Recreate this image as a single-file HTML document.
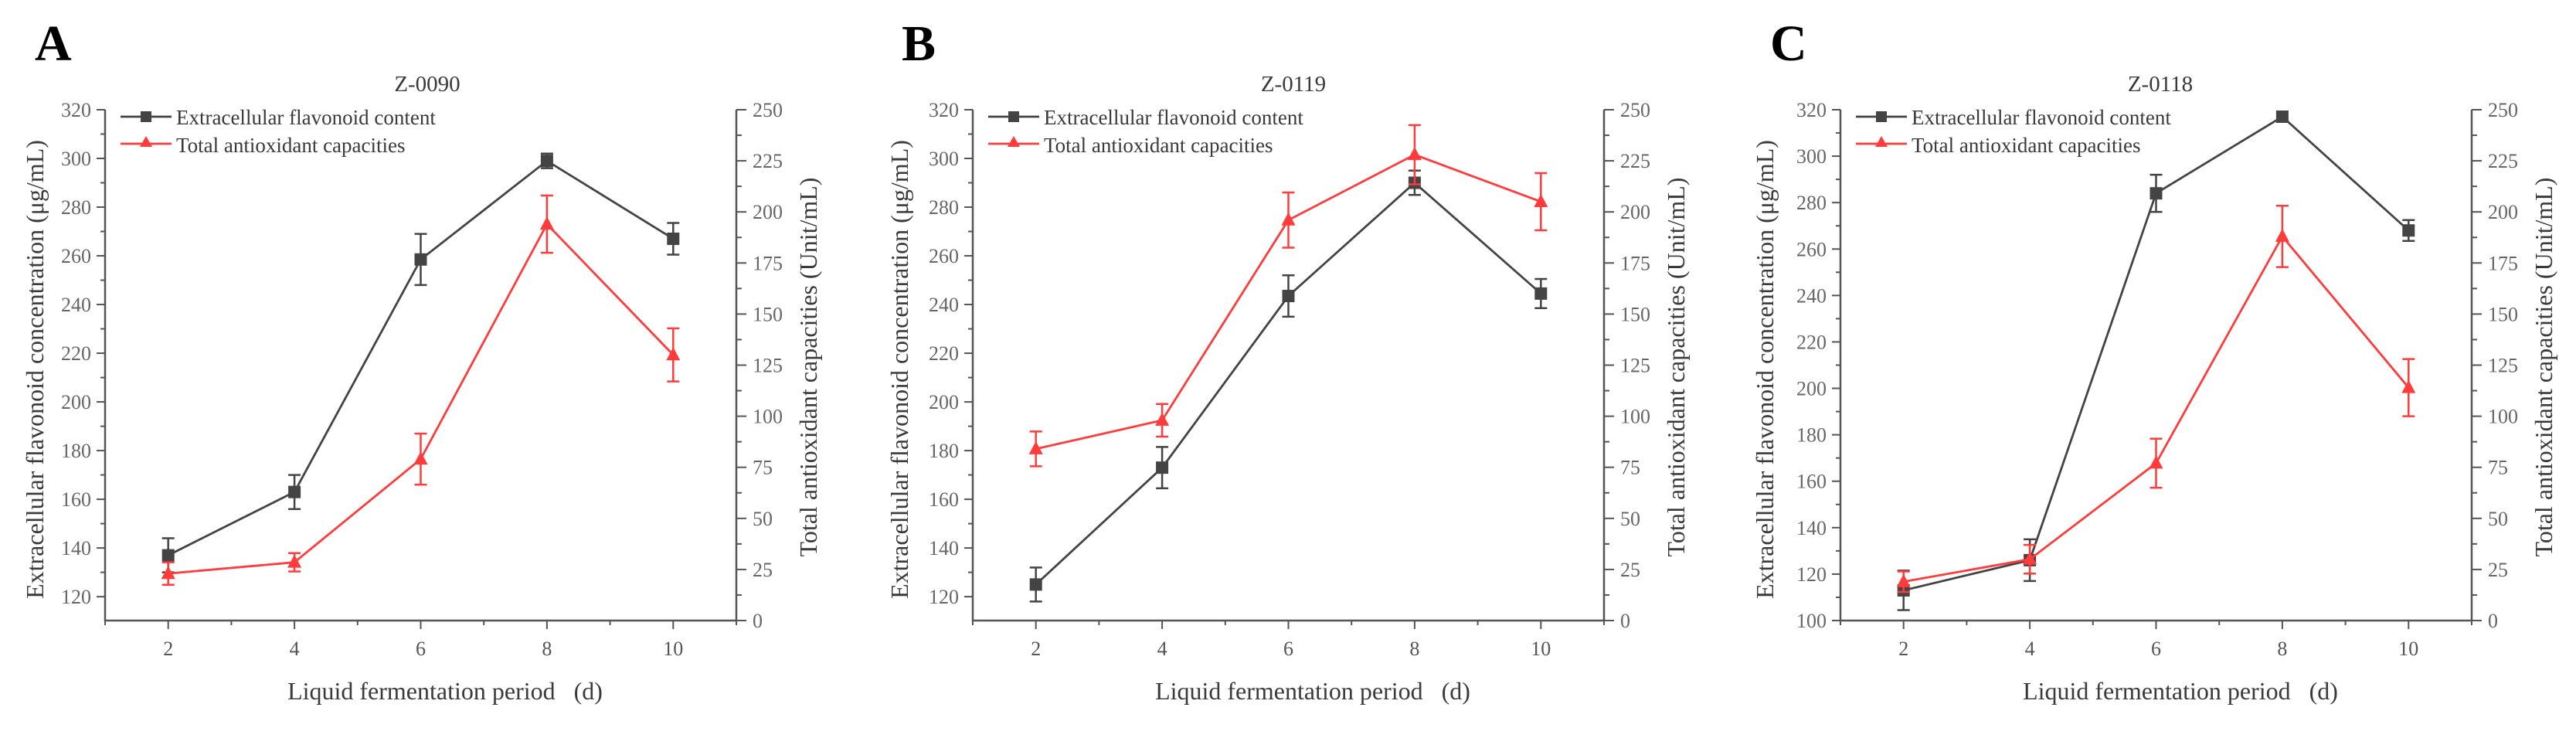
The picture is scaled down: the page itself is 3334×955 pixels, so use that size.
<!DOCTYPE html>
<html><head><meta charset="utf-8">
<style>
html,body{margin:0;padding:0;background:#fff;}
svg{display:block;font-family:"Liberation Serif",serif;}
</style></head>
<body>
<svg id="chart" width="3334" height="955" viewBox="0 0 3334 955" xmlns="http://www.w3.org/2000/svg"></svg>
<script>
const days = [2, 4, 6, 8, 10];
const xTicks = [2, 4, 6, 8, 10];
const rightTicks = [0, 25, 50, 75, 100, 125, 150, 175, 200, 225, 250];
const leftTicksAB = [120, 140, 160, 180, 200, 220, 240, 260, 280, 300, 320];
const leftTicksC = [100, 120, 140, 160, 180, 200, 220, 240, 260, 280, 300, 320];
const panelLetters = ["A", "B", "C"];
const panelTitles = ["Z-0090", "Z-0119", "Z-0118"];
const flavA = [137, 163, 258.5, 299, 267];
const flavErrA = [7, 7, 10.5, 3, 6.5];
const taocA = [23, 28.5, 79, 194, 130];
const taocErrA = [5.5, 4.5, 12.5, 14, 13];
const flavB = [125, 173, 243.5, 290, 244.5];
const flavErrB = [7, 8.5, 8.5, 5, 6];
const taocB = [84, 98, 196, 228, 205];
const taocErrB = [8.5, 8, 13.5, 14.5, 14];
const flavC = [113, 126, 284, 317, 268];
const flavErrC = [8.5, 9, 8, 0, 4.5];
const taocC = [19, 30, 77, 188, 114];
const taocErrC = [5, 7, 12, 15, 14];

const svg = document.getElementById('chart');
const NS = 'http://www.w3.org/2000/svg';
function mk(tag, attrs, parent, text){
  const e = document.createElementNS(NS, tag);
  for (const k in attrs) e.setAttribute(k, attrs[k]);
  if (text !== undefined) e.textContent = text;
  (parent || svg).appendChild(e);
  return e;
}
const BLACK = '#444', RED = '#ff3b3b', AX = '#555', TXT = '#3a3a3a';
const TOP = 142, BOT = 803, W = 817;

const panels = [
  {L:136, letterX:45, titleX:553, lmin:110.2, ltOff:80, lticks:leftTicksAB, flav:flavA, fe:flavErrA, taoc:taocA, te:taocErrA},
  {L:1259, letterX:1167, titleX:1674, lmin:110.2, ltOff:84, lticks:leftTicksAB, flav:flavB, fe:flavErrB, taoc:taocB, te:taocErrB},
  {L:2382, letterX:2291, titleX:2796, lmin:100, ltOff:87, lticks:leftTicksC, flav:flavC, fe:flavErrC, taoc:taocC, te:taocErrC}
];

panels.forEach((p, i) => {
  const g = mk('g', {});
  
  
  const L = p.L, R = L + W;
  const xs = v => L + (v - 1) / 10 * W;
  const yl = v => BOT - (v - p.lmin) / (320 - p.lmin) * (BOT - TOP);
  const yr = v => BOT - v / 250 * (BOT - TOP);

  const letter = mk('text', {x:p.letterX, y:78, 'font-size':66, 'font-weight':'bold', fill:'#000'}, g, panelLetters[i]);
  
  
  const title = mk('text', {x:p.titleX, y:118, 'font-size':29, 'text-anchor':'middle', fill:TXT}, g, panelTitles[i]);
  
  

  const axes = mk('path', {d:`M${L},${TOP} V${BOT} H${R} V${TOP}`, fill:'none', stroke:AX, 'stroke-width':2.5}, g);
  
  

  const startL = Math.ceil(p.lmin / 10) * 10;
  for (let v = startL; v <= 320; v += 10) {
    const y = yl(v);
    const major = p.lticks.includes(v);
    mk('line', {x1:L, x2:L-(major?11:6), y1:y, y2:y, stroke:AX, 'stroke-width':2}, g);
    if (major) {
      const t = mk('text', {x:L-18, y:y+9, 'font-size':26, 'text-anchor':'end', fill:'#666'}, g, v);
      
      
    }
  }
  for (let v = 0; v <= 250; v += 12.5) {
    const y = yr(v);
    const major = rightTicks.includes(v);
    mk('line', {x1:R, x2:R+(major?13:7), y1:y, y2:y, stroke:AX, 'stroke-width':2}, g);
    if (major) {
      const t = mk('text', {x:R+21, y:y+9, 'font-size':26, fill:'#666'}, g, v);
      
      
    }
  }
  for (let v = 1; v <= 11; v += 1) {
    const x = xs(v);
    const major = xTicks.includes(v);
    mk('line', {x1:x, x2:x, y1:BOT, y2:BOT+(major?11:6), stroke:AX, 'stroke-width':2}, g);
    if (major) {
      const t = mk('text', {x:x, y:BOT+45, 'font-size':26, 'text-anchor':'middle', fill:'#555'}, g, v);
      
      
    }
  }
  const xt = mk('text', {x:L+440, y:905, 'font-size':32, 'text-anchor':'middle', fill:TXT}, g, 'Liquid fermentation period\u00a0\u00a0\u00a0(d)');
  
  
  const lcx = L - p.ltOff, lcy = 478;
  const ylt = mk('text', {x:lcx, y:lcy, 'font-size':32, 'text-anchor':'middle', fill:TXT, transform:`rotate(-90 ${lcx} ${lcy})`}, g, 'Extracellular flavonoid concentration (\u03bcg/mL)');
  
  
  const rcx = R + 104, rcy = 475;
  const yrt = mk('text', {x:rcx, y:rcy, 'font-size':32, 'text-anchor':'middle', fill:TXT, transform:`rotate(-90 ${rcx} ${rcy})`}, g, 'Total antioxidant capacities (Unit/mL)');
  
  

  function series(vals, errs, yf, color, marker, name) {
    const sg = mk('g', {}, g);
    
    
    const pts = vals.map((v, k) => `${xs(days[k])},${yf(v)}`).join(' ');
    mk('polyline', {points:pts, fill:'none', stroke:color, 'stroke-width':2.8}, sg);
    vals.forEach((v, k) => {
      const x = xs(days[k]);
      const y1 = yf(v + errs[k]), y2 = yf(v - errs[k]);
      if (errs[k] > 0) {
        mk('line', {x1:x, x2:x, y1:y1, y2:y2, stroke:color, 'stroke-width':2.5}, sg);
        mk('line', {x1:x-8, x2:x+8, y1:y1, y2:y1, stroke:color, 'stroke-width':2.5}, sg);
        mk('line', {x1:x-8, x2:x+8, y1:y2, y2:y2, stroke:color, 'stroke-width':2.5}, sg);
      }
      const y = yf(v);
      let m;
      if (marker === 'sq') m = mk('rect', {x:x-8, y:y-8, width:16, height:16, fill:color}, sg);
      else m = mk('path', {d:`M${x},${y-10} L${x+9},${y+7} L${x-9},${y+7} Z`, fill:color}, sg);
      
      
    });
  }
  series(p.flav, p.fe, yl, BLACK, 'sq', 'series-flavonoid');
  series(p.taoc, p.te, yr, RED, 'tri', 'series-antioxidant');

  const lg = mk('g', {}, g);
  
  
  const lx = L + 20;
  mk('line', {x1:lx, x2:lx+66, y1:151, y2:151, stroke:BLACK, 'stroke-width':2.8}, lg);
  mk('rect', {x:lx+26, y:144, width:14, height:14, fill:BLACK}, lg);
  const le1 = mk('text', {x:lx+72, y:161, 'font-size':27, fill:TXT}, lg, 'Extracellular flavonoid content');
  
  
  mk('line', {x1:lx, x2:lx+66, y1:186, y2:186, stroke:RED, 'stroke-width':2.8}, lg);
  mk('path', {d:`M${lx+33},${176} L${lx+41},${190} L${lx+25},${190} Z`, fill:RED}, lg);
  const le2 = mk('text', {x:lx+72, y:197, 'font-size':27, fill:TXT}, lg, 'Total antioxidant capacities');
  
  
});
</script>
</body></html>
